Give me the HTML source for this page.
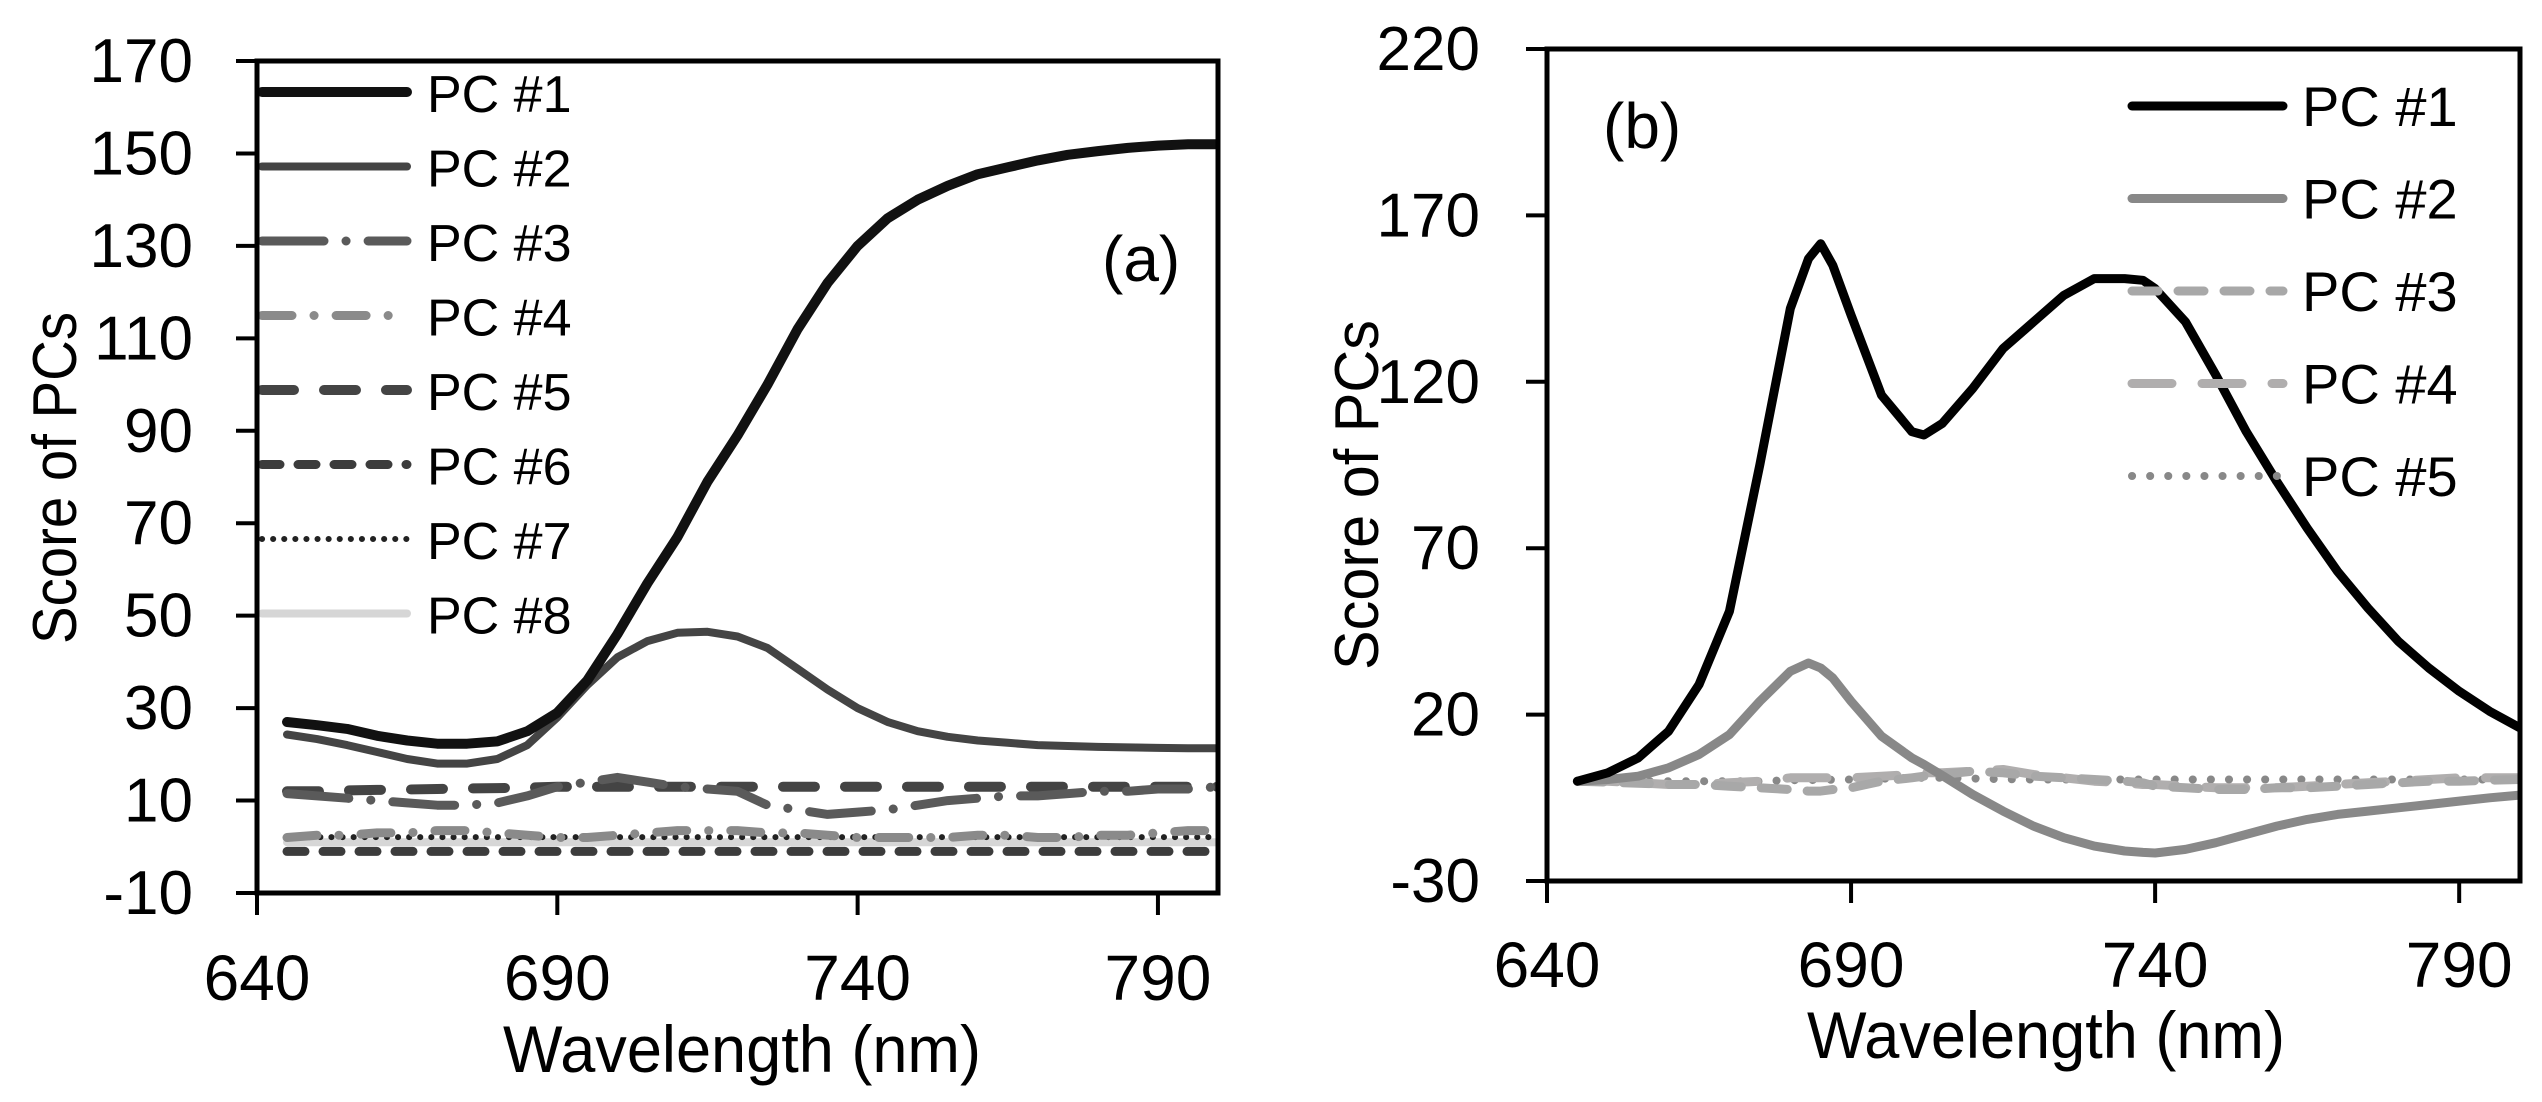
<!DOCTYPE html>
<html><head><meta charset="utf-8"><style>
html,body{margin:0;padding:0;background:#fff;}
svg{display:block;font-family:"Liberation Sans",sans-serif;}
</style></head><body>
<svg id="fig" width="2542" height="1102" viewBox="0 0 2542 1102" xmlns="http://www.w3.org/2000/svg">
<g id="pa"></g>
<g id="pb"></g>
</svg>
<script>
// ---- Chart (a) data ----
const aX = [645,650,655,660,665,670,675,680,685,690,695,700,705,710,715,720,725,730,735,740,745,750,755,760,765,770,775,780,785,790,795,800];
const aPC1 = [27,26.3,25.5,24,23,22.3,22.3,22.8,25,29,36,46,57,67,79,89,100,112,122,130,136,140,143,145.5,147,148.5,149.7,150.5,151.2,151.7,152,152];
const aPC2 = [24.3,23.3,22,20.5,19,18,18,19,22,28,35,41,44.5,46.3,46.5,45.5,43,38.5,34,30,27,25,23.8,23,22.5,22,21.8,21.6,21.5,21.4,21.3,21.3];
const aPC3 = [11.5,11,10.5,10,9.5,9,9,9.5,11,13,14,15,14,13,12.5,12,9,8,7,7.5,8,9,10,10.5,11,11,11.5,12,12,12.5,12.5,13];
const aPC4 = [2,2.5,2.5,3,3,3.5,3.5,3,2.5,2,2,2.5,3,3.5,3.5,3.5,3,3,2.5,2,2,2,2,2.5,2.5,2,2,2.5,2.5,3,3.5,3.5];
const aPC5 = [12,12,12.2,12.3,12.4,12.5,12.6,12.7,12.8,13,13,13,13,13,13,13,13,13,13,13,13,13,13,13,13,13,13,13,13,13,13,13];
const aPC6 = [-1,-1,-1,-1,-1,-1,-1,-1,-1,-1,-1,-1,-1,-1,-1,-1,-1,-1,-1,-1,-1,-1,-1,-1,-1,-1,-1,-1,-1,-1,-1,-1];
const aPC7 = [2.1,2.1,2.1,2.1,2.1,2.1,2.1,2.1,2.1,2.1,2.1,2.1,2.1,2.1,2.1,2.1,2.1,2.1,2.1,2.1,2.1,2.1,2.1,2.1,2.1,2.1,2.1,2.1,2.1,2.1,2.1,2.1];
const aPC8 = [1,1,1,1,1,1,1,1,1,1,1,1,1,1,1,1,1,1,1,1,1,1,1,1,1,1,1,1,1,1,1,1];
const aYTicks = [170,150,130,110,90,70,50,30,10,-10];
const aXTicks = [640,690,740,790];
const aNames = ["PC #1","PC #2","PC #3","PC #4","PC #5","PC #6","PC #7","PC #8"];
// ---- Chart (b) data ----
const bX = [645,650,655,660,665,670,675,680,683,685,687,690,695,700,702,705,710,715,720,725,730,735,738,740,745,750,755,760,765,770,775,780,785,790,795,800];
const bPC1 = [0,2.5,7,15,29,51,95,142,157,161.5,155,140,116,105,104,107.5,118,130,138,146,151,151,150.5,148,138,122,105,90,76,63,52,42,34,27,21,16];
const bPC2 = [0,0.5,1.5,4,8,14,24,33,35.5,34,31,24,13.5,7,5,1.7,-4,-9,-13.5,-17,-19.5,-21,-21.4,-21.6,-20.5,-18.5,-16,-13.5,-11.5,-10,-9,-8,-7,-6,-5,-4.2];
const bPC3 = [0,-0.3,-0.6,-1,-1,-1.5,-2,-2.5,-3,-3,-2.5,-2,0,1,1.5,2,3,2.5,1.5,1,0.5,0,-0.5,-1.5,-2,-2.5,-2.5,-2,-2,-1.5,-1,-0.5,0,0,0.3,0.5];
const bPC4 = [0,0,-0.5,-1,-1,-0.5,0,1,1,1,1,1,1.5,2,2.5,2.5,3,3.5,2,1,0,-0.5,-1,-1,-1.5,-2,-2,-2,-1.5,-1,-0.5,0,0.5,1,1,1];
const bPC5 = [0,0,0,0,0,0,0,0.3,0.3,0.4,0.4,0.5,0.7,1,1,1,0.8,0.6,0.5,0.5,0.5,0.5,0.5,0.5,0.5,0.5,0.5,0.5,0.5,0.5,0.5,0.5,0.5,0.5,0.5,0.5];
const bYTicks = [220,170,120,70,20,-30];
const bXTicks = [640,690,740,790];
const bNames = ["PC #1","PC #2","PC #3","PC #4","PC #5"];

const NS = "http://www.w3.org/2000/svg";
function mk(parent, tag, attrs, text){
  const el = document.createElementNS(NS, tag);
  for (const k in attrs) el.setAttribute(k, attrs[k]);
  if (text !== undefined) el.textContent = text;
  parent.appendChild(el);
  return el;
}
function path(xs, ys, sx, sy){
  return xs.map((x,i)=>(i?"L":"M")+sx(x).toFixed(1)+","+sy(ys[i]).toFixed(1)).join(" ");
}

function drawChart(g, cfg){
  const sx = v => cfg.L + (v - 640) / 160 * (cfg.R - cfg.L);
  const sy = v => cfg.B - (v - cfg.ymin) / (cfg.ymax - cfg.ymin) * (cfg.B - cfg.T);
  const cid = "clip" + cfg.id;
  const defs = mk(g, "defs", {});
  const cp = mk(defs, "clipPath", {id: cid});
  mk(cp, "rect", {x: cfg.L, y: cfg.T, width: cfg.R - cfg.L, height: cfg.B - cfg.T});
  cfg.yTicks.forEach(t => {
    const y = sy(t);
    const tk = mk(g, "line", {x1: cfg.L - 21, x2: cfg.L, y1: y, y2: y, stroke: "#000", "stroke-width": 4});
    
    
    const lb = mk(g, "text", {x: cfg.ylabX, y: y + 21, "text-anchor": "end", "font-size": 62, fill: "#000"}, String(t));
    
    
  });
  cfg.xTicks.forEach(t => {
    const x = sx(t);
    const tk = mk(g, "line", {x1: x, x2: x, y1: cfg.B, y2: cfg.B + 22, stroke: "#000", "stroke-width": 4});
    
    
    const lb = mk(g, "text", {x: x, y: cfg.xlabY, "text-anchor": "middle", "font-size": 64, fill: "#000"}, String(t));
    
    
  });
  const sg = mk(g, "g", {"clip-path": "url(#" + cid + ")"});
  
  
  cfg.series.slice().reverse().forEach(s => {
    const p = mk(sg, "path", {d: path(cfg.x, s.data, sx, sy), fill: "none", stroke: s.color, "stroke-width": s.w, "stroke-linecap": "round", "stroke-linejoin": "round"});
    if (s.dash) p.setAttribute("stroke-dasharray", s.dash);
    
    
  });
  cfg.series.forEach((s, i) => {
    const y = cfg.legY0 + i * cfg.legDy;
    const ln = mk(g, "line", {x1: cfg.legX1, x2: cfg.legX2, y1: y, y2: y, stroke: s.color, "stroke-width": s.w, "stroke-linecap": "round"});
    if (s.dash) ln.setAttribute("stroke-dasharray", s.dash);
    
    
    const tx = mk(g, "text", {x: cfg.legTX, y: y + 20, "font-size": cfg.legFs, fill: "#000"}, cfg.names[i]);
    
    
  });
  const fr = mk(g, "rect", {x: cfg.L, y: cfg.T, width: cfg.R - cfg.L, height: cfg.B - cfg.T, fill: "none", stroke: "#000", "stroke-width": 5});
  
  
  const xt = mk(g, "text", {x: cfg.xtX, y: cfg.xtY, "text-anchor": "middle", "font-size": 66, textLength: 478, lengthAdjust: "spacingAndGlyphs", fill: "#000"}, "Wavelength (nm)");
  
  
  const yt = mk(g, "text", {x: 0, y: 0, transform: "translate(" + cfg.ytX + "," + cfg.ytY + ") rotate(-90)", "text-anchor": "middle", "font-size": 62, textLength: cfg.ytLen, lengthAdjust: "spacingAndGlyphs", fill: "#000"}, "Score of PCs");
  
  
  const pl = mk(g, "text", {x: cfg.plX, y: cfg.plY, "font-size": 64, fill: "#000"}, cfg.panel);
  
  
}

drawChart(document.getElementById("pa"), {
  id: "a", L: 257, R: 1218, T: 61, B: 893, ymin: -10, ymax: 170,
  yTicks: aYTicks, xTicks: aXTicks, x: aX, names: aNames,
  ylabX: 193, xlabY: 1000,
  series: [
    {data: aPC1, color: "#111", w: 10},
    {data: aPC2, color: "#444", w: 8},
    {data: aPC3, color: "#5a5a5a", w: 9, dash: "62,22,0.1,22"},
    {data: aPC4, color: "#8a8a8a", w: 9, dash: "30,22,0.1,22"},
    {data: aPC5, color: "#444", w: 10, dash: "32,30"},
    {data: aPC6, color: "#3c3c3c", w: 9, dash: "18,18"},
    {data: aPC7, color: "#222", w: 6, dash: "0.1,11"},
    {data: aPC8, color: "#d6d6d6", w: 8}
  ],
  legY0: 92, legDy: 74.5, legX1: 262, legX2: 407, legTX: 427, legFs: 52,
  xtX: 742, xtY: 1072, ytX: 76, ytY: 478, ytLen: 332,
  panel: "(a)", plX: 1102, plY: 281
});
drawChart(document.getElementById("pb"), {
  id: "b", L: 1547, R: 2520, T: 49, B: 881, ymin: -30, ymax: 220,
  yTicks: bYTicks, xTicks: bXTicks, x: bX, names: bNames,
  ylabX: 1480, xlabY: 987,
  series: [
    {data: bPC1, color: "#000", w: 9},
    {data: bPC2, color: "#888", w: 9},
    {data: bPC3, color: "#a8a8a8", w: 9, dash: "26,20"},
    {data: bPC4, color: "#b0aeae", w: 9, dash: "40,30"},
    {data: bPC5, color: "#888", w: 8, dash: "0.1,18"}
  ],
  legY0: 106, legDy: 92.5, legX1: 2132, legX2: 2283, legTX: 2302, legFs: 56,
  xtX: 2046, xtY: 1058, ytX: 1378, ytY: 495, ytLen: 350,
  panel: "(b)", plX: 1603, plY: 148
});
</script>
</body></html>
